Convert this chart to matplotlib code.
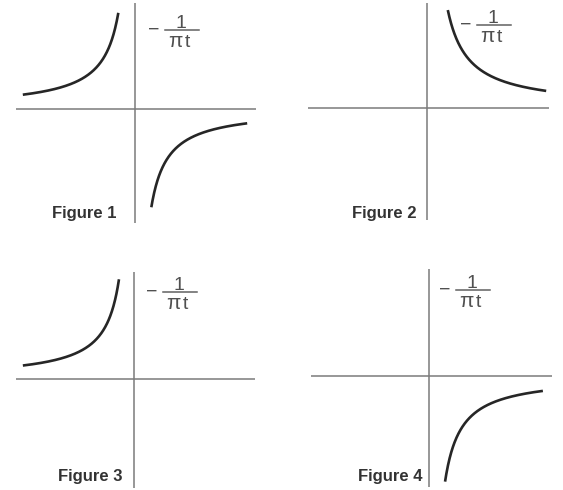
import numpy as np
import matplotlib
matplotlib.use("Agg")
import matplotlib.pyplot as plt
from matplotlib.lines import Line2D

W, H = 563, 490

# ---- data ----
panel_titles = ["Figure 1", "Figure 2", "Figure 3", "Figure 4"]
formula_num = "1"
formula_den = ["π", "t"]
# curve branches per panel: (t_start, t_end, sign) ; y = sign * 1/(pi t)
branches = [
    [(-1.58, -0.235, -1), (0.23, 1.58, -1)],
    [(0.26, 1.49, 1)],
    [(-1.62, -0.219, -1)],
    [(0.22, 1.56, -1)],
]

# ---- layout (pixels) ----
# x0, x1, y0, y1 of axis lines, origin ox, oy, unit u (px per data unit)
layout = [
    (16, 256, 3, 223, 135, 109, 71.0),
    (308, 549, 3, 220, 427, 108, 80.0),
    (16, 255, 272, 488, 134, 379, 68.6),
    (311, 552, 269, 487, 429, 376, 73.0),
]
# fraction bar centre (px), title right edge / baseline (px)
label_pos = [(182, 30), (494, 25), (180, 292), (473, 290)]
title_pos = [(116, 218), (417, 218), (122, 481), (422, 481)]

fig = plt.figure(figsize=(W / 100, H / 100), dpi=100)
fig.patch.set_facecolor("white")

def fx(x):
    return x / W

def fy(y):
    return 1 - y / H

for i in range(4):
    x0, x1, y0, y1, ox, oy, u = layout[i]
    ax = fig.add_axes([fx(x0), fy(y1), (x1 - x0) / W, (y1 - y0) / H])
    ax.set_xlim((x0 - ox) / u, (x1 - ox) / u)
    ax.set_ylim((oy - y1) / u, (oy - y0) / u)
    ax.axis("off")
    ax.axhline(0, color="#7a7a7a", lw=1.1, zorder=1)
    ax.axvline(0, color="#7a7a7a", lw=1.1, zorder=1)
    for (ts, te, sgn) in branches[i]:
        t = np.linspace(ts, te, 300)
        ax.plot(t, sgn / (np.pi * t), color="#262626", lw=1.9,
                solid_capstyle="butt", clip_on=False, zorder=2)

    # formula label
    bx, by = label_pos[i]
    fig.add_artist(Line2D([fx(bx - 17), fx(bx + 17)], [fy(by), fy(by)],
                          transform=fig.transFigure, color="#606060", lw=1.1))
    fig.text(fx(bx - 28), fy(by + 5), "−", ha="center", va="baseline",
             fontsize=14, family="Liberation Sans", color="#505050")
    fig.text(fx(bx - 1), fy(by - 2), formula_num, ha="center", va="baseline",
             fontsize=14, family="Liberation Sans", color="#505050")
    fig.text(fx(bx + 1), fy(by + 17), formula_den[0], ha="right", va="baseline",
             fontsize=15, family="Liberation Sans", color="#505050")
    fig.text(fx(bx + 3), fy(by + 17), formula_den[1], ha="left", va="baseline",
             fontsize=14, family="Liberation Sans", color="#505050")

    # title
    tx, ty = title_pos[i]
    fig.text(fx(tx), fy(ty), panel_titles[i], ha="right", va="baseline",
             fontsize=12, fontweight="bold", family="Liberation Sans",
             color="#333333")

fig.savefig("out.png", dpi=100, facecolor="white")
